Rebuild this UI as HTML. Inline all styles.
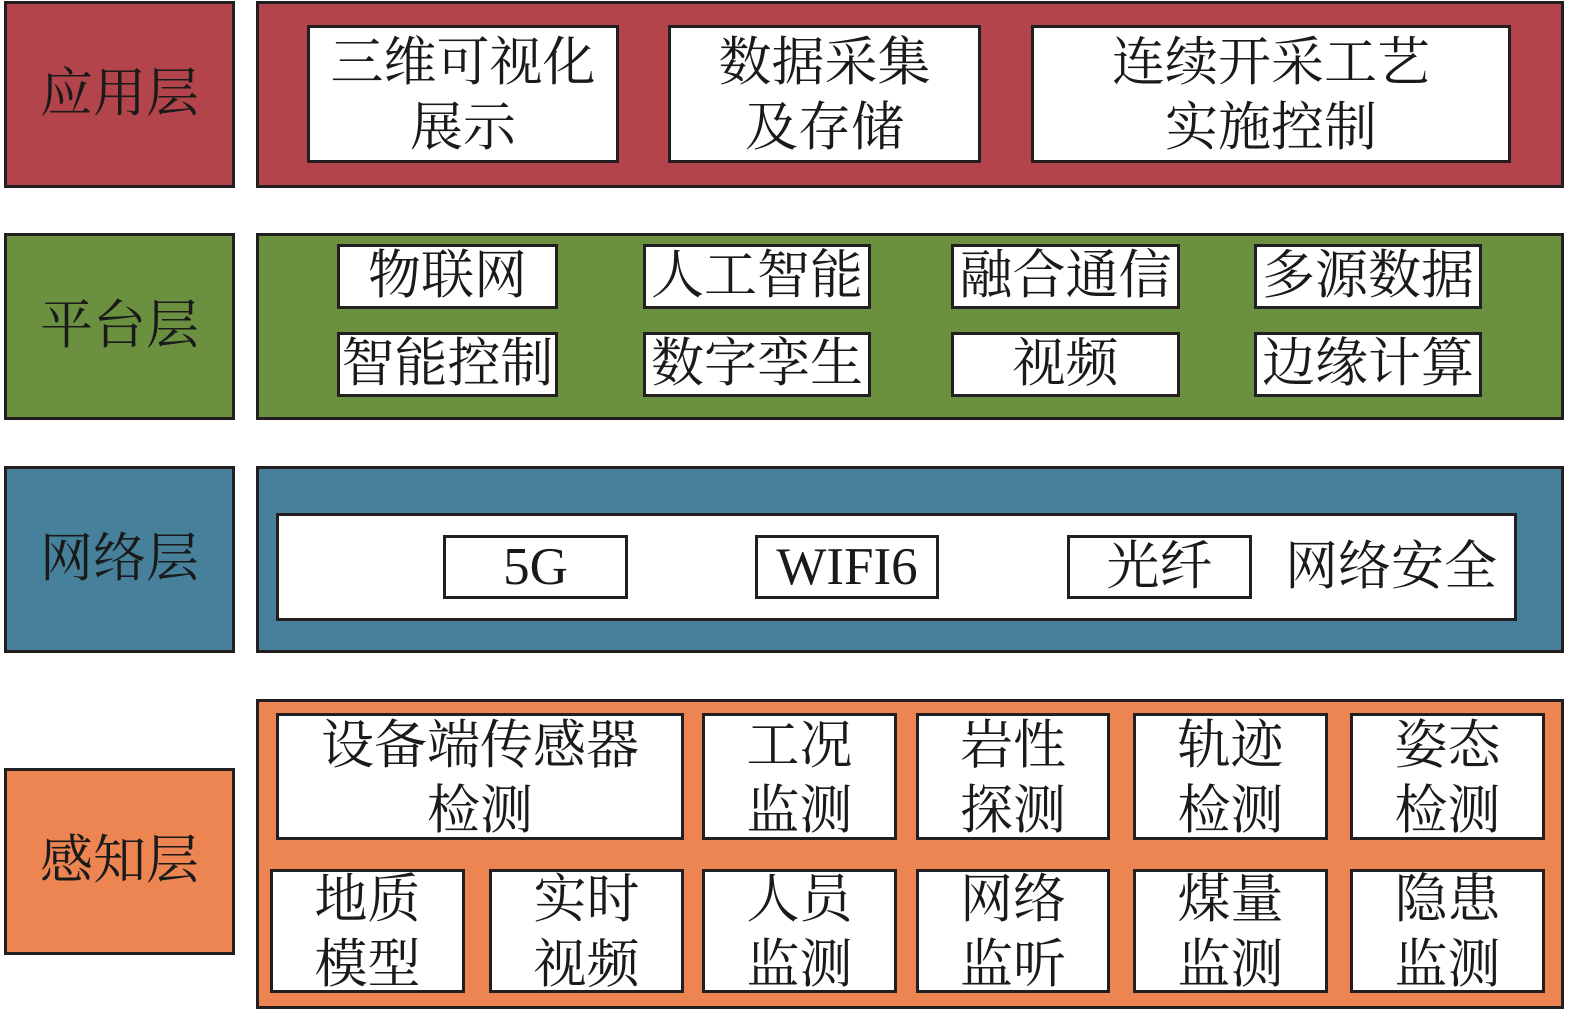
<!DOCTYPE html>
<html><head><meta charset="utf-8"><style>
body{margin:0;width:1575px;height:1015px;background:#fff;position:relative;overflow:hidden;font-family:"Liberation Serif","Noto Serif CJK SC",serif;color:#1a1a1a}
div{position:absolute;box-sizing:border-box;border:3px solid #231f20;display:flex;align-items:center;justify-content:center;text-align:center;font-size:53px;line-height:65px;white-space:nowrap}
.r{background:#b3444b}.g{background:#6b9040}.b{background:#47809a}.o{background:#ec8552}
.w{background:#fff}
.t{border:none;background:none}
</style></head><body>
<div class="r" style="left:4px;top:1px;width:231px;height:187px">应用层</div>
<div class="g" style="left:4px;top:233px;width:231px;height:187px">平台层</div>
<div class="b" style="left:4px;top:466px;width:231px;height:187px">网络层</div>
<div class="o" style="left:4px;top:768px;width:231px;height:187px">感知层</div>

<div class="r" style="left:256px;top:1px;width:1308px;height:187px"></div>
<div class="w" style="left:307px;top:25px;width:312px;height:138px;padding-top:4px">三维可视化<br>展示</div>
<div class="w" style="left:668px;top:25px;width:313px;height:138px;padding-top:4px">数据采集<br>及存储</div>
<div class="w" style="left:1031px;top:25px;width:480px;height:138px;padding-top:4px">连续开采工艺<br>实施控制</div>

<div class="g" style="left:256px;top:233px;width:1308px;height:187px"></div>
<div class="w" style="left:337px;top:244px;width:221px;height:65px">物联网</div>
<div class="w" style="left:643px;top:244px;width:228px;height:65px">人工智能</div>
<div class="w" style="left:951px;top:244px;width:229px;height:65px">融合通信</div>
<div class="w" style="left:1254px;top:244px;width:228px;height:65px">多源数据</div>
<div class="w" style="left:337px;top:332px;width:221px;height:65px">智能控制</div>
<div class="w" style="left:643px;top:332px;width:228px;height:65px">数字孪生</div>
<div class="w" style="left:951px;top:332px;width:229px;height:65px">视频</div>
<div class="w" style="left:1254px;top:332px;width:228px;height:65px">边缘计算</div>

<div class="b" style="left:256px;top:466px;width:1308px;height:187px"></div>
<div class="w" style="left:276px;top:513px;width:1241px;height:108px"></div>
<div class="w" style="left:443px;top:535px;width:185px;height:64px">5G</div>
<div class="w" style="left:755px;top:535px;width:184px;height:64px">WIFI6</div>
<div class="w" style="left:1067px;top:535px;width:185px;height:64px">光纤</div>
<div class="t" style="left:1280px;top:535px;width:222px;height:64px">网络安全</div>

<div class="o" style="left:256px;top:699px;width:1308px;height:310px"></div>
<div class="w" style="left:276px;top:713px;width:408px;height:127px;padding-top:4px">设备端传感器<br>检测</div>
<div class="w" style="left:702px;top:713px;width:195px;height:127px;padding-top:4px">工况<br>监测</div>
<div class="w" style="left:916px;top:713px;width:194px;height:127px;padding-top:4px">岩性<br>探测</div>
<div class="w" style="left:1133px;top:713px;width:195px;height:127px;padding-top:4px">轨迹<br>检测</div>
<div class="w" style="left:1350px;top:713px;width:195px;height:127px;padding-top:4px">姿态<br>检测</div>
<div class="w" style="left:270px;top:869px;width:195px;height:124px;padding-top:4px">地质<br>模型</div>
<div class="w" style="left:489px;top:869px;width:195px;height:124px;padding-top:4px">实时<br>视频</div>
<div class="w" style="left:702px;top:869px;width:195px;height:124px;padding-top:4px">人员<br>监测</div>
<div class="w" style="left:916px;top:869px;width:194px;height:124px;padding-top:4px">网络<br>监听</div>
<div class="w" style="left:1133px;top:869px;width:195px;height:124px;padding-top:4px">煤量<br>监测</div>
<div class="w" style="left:1350px;top:869px;width:195px;height:124px;padding-top:4px">隐患<br>监测</div>
</body></html>
